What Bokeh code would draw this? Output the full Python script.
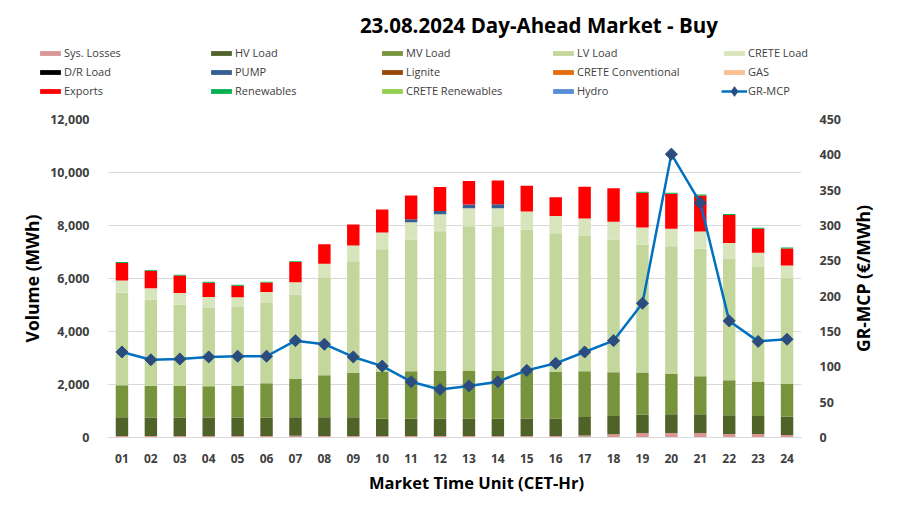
from bokeh.plotting import figure
from bokeh.models import (Range1d, LinearAxis, FactorRange, Legend, LegendItem, Label,
                          NumeralTickFormatter, FixedTicker, ColumnDataSource)
from bokeh.layouts import row
from bokeh.embed import file_html
from bokeh.resources import INLINE
import math

# ---------------- data ----------------
hours = [f"{i:02d}" for i in range(1, 25)]

sys_losses = [60, 55, 55, 55, 55, 55, 65, 60, 60, 60, 55, 55, 55, 55, 55, 60, 75, 120, 170, 170, 170, 135, 135, 90]
hv_load = [700, 700, 700, 700, 700, 700, 695, 700, 700, 650, 650, 665, 665, 665, 665, 660, 695, 695, 685, 710, 710, 705, 680, 700]
mv_load = [1210, 1200, 1185, 1175, 1185, 1290, 1450, 1590, 1675, 1765, 1795, 1790, 1790, 1790, 1790, 1755, 1730, 1645, 1595, 1520, 1430, 1320, 1280, 1230]
lv_load = [3495, 3245, 3070, 2955, 2980, 3030, 3180, 3670, 4220, 4630, 4975, 5270, 5465, 5465, 5340, 5230, 5100, 5015, 4835, 4815, 4815, 4575, 4335, 3985]
crete_load = [455, 435, 440, 415, 375, 415, 465, 540, 590, 635, 650, 645, 680, 680, 680, 655, 665, 665, 640, 665, 650, 605, 545, 490]
dr_load = [0] * 24
pump = [0, 0, 0, 0, 0, 0, 0, 0, 0, 0, 115, 125, 140, 150, 0, 0, 0, 0, 0, 0, 0, 0, 0, 0]
lignite = [0] * 24
crete_conv = [0] * 24
gas = [0] * 24
exports = [665, 655, 665, 540, 430, 355, 765, 735, 790, 865, 890, 905, 880, 895, 970, 705, 1195, 1270, 1310, 1320, 1360, 1055, 905, 640]
renewables = [35, 35, 30, 40, 35, 30, 35, 0, 0, 0, 0, 0, 0, 0, 0, 0, 0, 0, 40, 35, 35, 40, 35, 35]
crete_ren = [0] * 24
hydro = [0] * 24
gr_mcp = [121, 110, 111, 114, 115, 115, 137, 132, 114, 101, 79, 68, 73, 79, 95, 105, 121, 137, 190, 401, 332, 165, 136, 139]

volume_ticks = [0, 2000, 4000, 6000, 8000, 10000, 12000]
price_ticks = [0, 50, 100, 150, 200, 250, 300, 350, 400, 450]

series_names = ["Sys. Losses", "HV Load", "MV Load", "LV Load", "CRETE Load", "D/R Load", "PUMP",
                "Lignite", "CRETE Conventional", "GAS", "Exports", "Renewables", "CRETE Renewables", "Hydro"]
series_values = [sys_losses, hv_load, mv_load, lv_load, crete_load, dr_load, pump,
                 lignite, crete_conv, gas, exports, renewables, crete_ren, hydro]
series_colors = ["#DA9694", "#4F6228", "#77933C", "#C3D69B", "#D8E4BC", "#000000", "#366092",
                 "#974706", "#E46C0A", "#FABF8F", "#FF0000", "#00B050", "#92D050", "#558ED5"]

FONT = "Open Sans"
TXT = "#404040"
W = 903
MAIN_W = 851


def blank(width, height, x0=0, top=0, bottom=0):
    f = figure(width=width, height=height, x_range=Range1d(x0, x0 + width),
               y_range=Range1d(0, height - top - bottom),
               x_axis_type=None, y_axis_type=None, output_backend="svg", toolbar_location=None,
               min_border_left=0, min_border_right=0, min_border_top=top, min_border_bottom=bottom)
    f.grid.visible = False
    f.outline_line_color = None
    return f


# ---------------- header: title + legend ----------------
header = blank(W, 109)
header.add_layout(Label(x=541, y=84.5, text="23.08.2024  Day-Ahead Market - Buy", text_font=FONT,
                        text_font_style="bold", text_font_size="20.5px", text_color="black",
                        text_align="center", text_baseline="middle"))

# ---------------- main chart ----------------
p = figure(width=MAIN_W, height=358, x_range=FactorRange(factors=hours), y_range=Range1d(0, 12000),
           output_backend="svg", toolbar_location=None,
           min_border_left=107, min_border_right=MAIN_W - 801, min_border_top=10, min_border_bottom=30)
p.outline_line_color = None
p.extra_y_ranges = {"mcp": Range1d(0, 450)}

keys = [f"s{i}" for i in range(len(series_names))]
data = {"hour": hours}
for k, v in zip(keys, series_values):
    data[k] = v
data["mcp"] = gr_mcp
src = ColumnDataSource(data)

p.vbar_stack(keys, x="hour", width=0.43, fill_color=series_colors, line_color=None, source=src)
p.line(x="hour", y="mcp", source=src, y_range_name="mcp", line_color="#0070C0", line_width=2.5)
p.scatter(x="hour", y="mcp", source=src, y_range_name="mcp", marker="square", angle=math.pi / 4,
          size=8.5, fill_color="#2B4C7E", line_color="#2B4C7E")

ax1 = p.yaxis[0]
ax1.ticker = FixedTicker(ticks=volume_ticks)
ax1.formatter = NumeralTickFormatter(format="0,0")
ax2 = LinearAxis(y_range_name="mcp", ticker=FixedTicker(ticks=price_ticks))
p.add_layout(ax2, "right")
axx = p.xaxis[0]

for ax in [ax1, ax2, axx]:
    ax.major_tick_line_color = None
    ax.minor_tick_line_color = None
    ax.major_label_text_font = FONT
    ax.major_label_text_font_style = "bold"
    ax.major_label_text_font_size = "12.5px"
    ax.major_label_text_color = TXT

ax1.axis_line_color = None
ax2.axis_line_color = None
ax1.major_label_standoff = 12
ax2.major_label_standoff = 12
ax1.axis_label = "Volume (MWh)"
ax1.axis_label_standoff = 3
ax1.axis_label_text_font = FONT
ax1.axis_label_text_font_style = "bold"
ax1.axis_label_text_font_size = "17.5px"
ax1.axis_label_text_color = "black"

axx.axis_line_color = "#D9D9D9"
axx.major_label_standoff = 10
axx.major_label_text_font_size = "12px"

p.xgrid.grid_line_color = None
p.ygrid.ticker = FixedTicker(ticks=volume_ticks)
p.ygrid.grid_line_color = "#D9D9D9"

# ---------------- right strip: secondary axis title (reads bottom-to-top) ----------------
side = blank(W - MAIN_W, 358, x0=MAIN_W, top=10, bottom=30)
side.add_layout(Label(x=862, y=159, text="GR-MCP (€/MWh)", angle=math.pi / 2, text_font=FONT,
                      text_font_style="bold", text_font_size="17.5px", text_color="black",
                      text_align="center", text_baseline="middle"))

# ---------------- footer: x axis title ----------------
footer = blank(W, 54)
footer.add_layout(Label(x=476, y=39, text="Market Time Unit (CET-Hr)", text_font=FONT,
                        text_font_style="bold", text_font_size="16.5px", text_color="black",
                        text_align="center", text_baseline="middle"))

# ---------------- legend (5 columns x 3 rows) in header ----------------
# legend swatches: one sample row kept outside the visible header range
leg_src = ColumnDataSource(dict(x=[-500], y=[-500], top=[-500]))
leg_renderers = []
for name, col in zip(series_names, series_colors):
    r = header.vbar(x="x", top="top", width=1, source=leg_src, fill_color=col, line_color=None)
    leg_renderers.append((name, [r]))
lr = header.line(x="x", y="y", source=leg_src, line_color="#0070C0", line_width=2.5)
ls = header.scatter(x="x", y="y", source=leg_src, marker="diamond", size=8.5,
                    fill_color="#2B4C7E", line_color="#2B4C7E")
leg_renderers.append(("GR-MCP", [lr, ls]))
items = [LegendItem(label=n, renderers=rs) for n, rs in leg_renderers]

legend_style = dict(orientation="vertical", glyph_width=26, label_standoff=1, label_height=12,
                    spacing=4, padding=0, margin=0, border_line_color=None, background_fill_alpha=0,
                    label_text_font=FONT, label_text_font_size="11px", label_text_color=TXT)
col_x = [37, 208, 379, 550, 721]
for c in range(4):
    header.add_layout(Legend(items=[items[c], items[c + 5], items[c + 10]], location=(col_x[c], 11),
                             glyph_height=6, **legend_style), "center")
header.add_layout(Legend(items=[items[4], items[9]], location=(col_x[4], 30),
                         glyph_height=6, **legend_style), "center")
header.add_layout(Legend(items=[items[14]], location=(col_x[4], 6.5),
                         glyph_height=24, **legend_style), "center")

open("out.html", "w").write(file_html([header, row(p, side, spacing=0), footer], INLINE))
